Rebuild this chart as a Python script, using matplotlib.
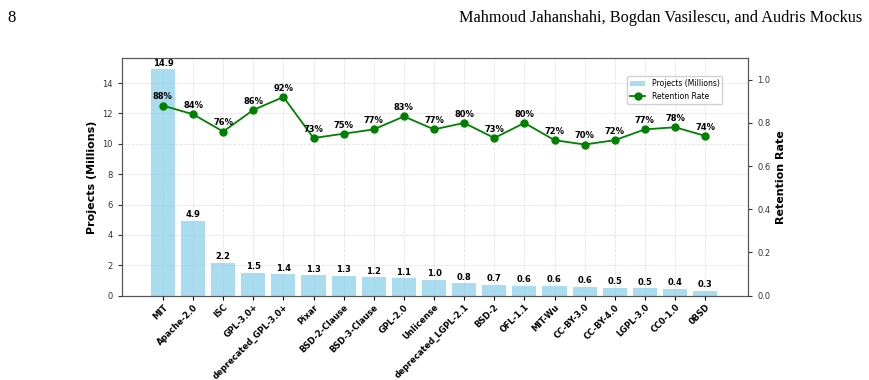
"""License popularity and retention rate, bar + line on twin axes.
"""

import numpy as np
import matplotlib
matplotlib.use("Agg")
import matplotlib.pyplot as plt

licenses = ["MIT", "Apache-2.0", "ISC", "GPL-3.0+", "deprecated_GPL-3.0+",
            "Pixar", "BSD-2-Clause", "BSD-3-Clause", "GPL-2.0", "Unlicense",
            "deprecated_LGPL-2.1", "BSD-2", "OFL-1.1", "MIT-Wu", "CC-BY-3.0",
            "CC-BY-4.0", "LGPL-3.0", "CC0-1.0", "0BSD"]
projects_millions = [14.9, 4.93, 2.18, 1.5, 1.4, 1.33, 1.3, 1.22, 1.14, 1.04,
                     0.83, 0.7, 0.64, 0.64, 0.57, 0.53, 0.5, 0.44, 0.33]
retention = [0.88, 0.84, 0.76, 0.86, 0.92, 0.73, 0.75, 0.77, 0.83, 0.77,
             0.80, 0.73, 0.80, 0.72, 0.70, 0.72, 0.77, 0.78, 0.74]

fig = plt.figure(figsize=(8.69, 3.8), dpi=100)
ax1 = fig.add_axes([0.140, 0.222, 0.721, 0.625])
ax2 = ax1.twinx()

x = np.arange(len(licenses))

bars = ax1.bar(x, projects_millions, width=0.8, color="skyblue", alpha=0.7,
               label="Projects (Millions)")
for b, v in zip(bars, projects_millions):
    ax1.text(b.get_x() + b.get_width() / 2, b.get_height() + 0.1, f"{v:.1f}",
             ha="center", va="bottom", fontsize=6, fontweight="bold")

line, = ax2.plot(x, retention, color="green", marker="o", markersize=5,
                 linewidth=1.3, label="Retention Rate")
for xi, r in zip(x, retention):
    ax2.annotate(f"{r:.0%}", (xi, r), xytext=(0, 3),
                 textcoords="offset points", ha="center", va="bottom",
                 fontsize=6, fontweight="bold")

ax1.set_xlim(-1.37, len(licenses) - 1 + 1.43)
ax1.set_ylim(0, max(projects_millions) * 1.05)
ax2.set_ylim(0, 1.1)

ax1.set_xticks(x)
ax1.set_xticklabels(licenses, rotation=45, ha="right", rotation_mode="anchor",
                    fontsize=6, fontweight="bold")
ax1.tick_params(axis="y", labelsize=6, colors="#333333", length=3)
ax1.tick_params(axis="x", length=3, pad=2)
ax2.tick_params(axis="y", labelsize=6, colors="#333333", length=3)

ax1.set_ylabel("Projects (Millions)", fontsize=8, fontweight="bold")
ax2.set_ylabel("Retention Rate", fontsize=8, fontweight="bold")

ax1.grid(True, linestyle="--", alpha=0.35, linewidth=0.6)
ax1.set_axisbelow(True)

for ax in (ax1, ax2):
    for s in ax.spines.values():
        s.set_color("#555555")

ax1.legend([bars, line], ["Projects (Millions)", "Retention Rate"],
           loc="upper right", bbox_to_anchor=(0.965, 0.94), fontsize=5.5,
           framealpha=0.9)

# page header from the paper
fig.text(0.008, 0.975, "8", ha="left", va="top", fontsize=12,
         family="Liberation Serif")
fig.text(0.992, 0.975, "Mahmoud Jahanshahi, Bogdan Vasilescu, and Audris Mockus",
         ha="right", va="top", fontsize=11.7, family="Liberation Serif")

fig.savefig("out.png", dpi=100)
